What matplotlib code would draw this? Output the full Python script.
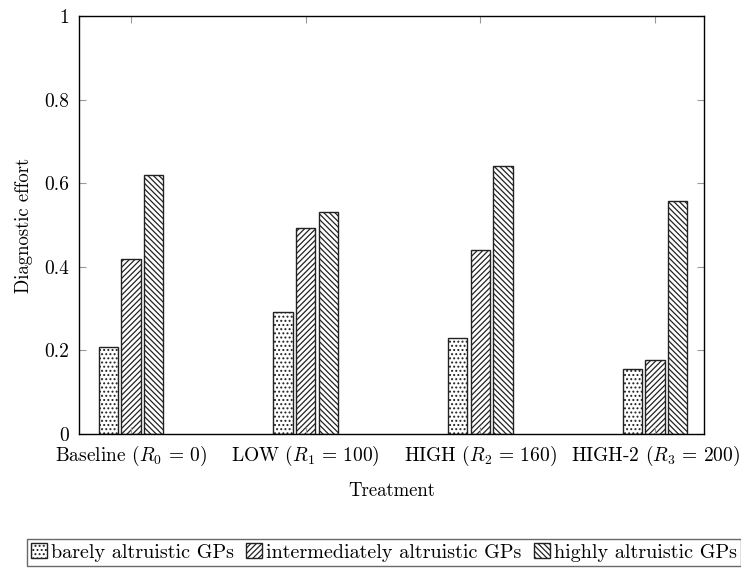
import numpy as np
import matplotlib
matplotlib.use("Agg")
import matplotlib.pyplot as plt

plt.rcParams["font.family"] = "serif"
plt.rcParams["font.serif"] = ["cmr10"]
plt.rcParams["mathtext.fontset"] = "cm"
plt.rcParams["axes.unicode_minus"] = False
plt.rcParams["hatch.linewidth"] = 0.9

treatments = [r"Baseline ($R_0\,=\,0$)", r"LOW ($R_1\,=\,100$)",
              r"HIGH ($R_2\,=\,160$)", r"HIGH-2 ($R_3\,=\,200$)"]
series = ["barely altruistic GPs", "intermediately altruistic GPs", "highly altruistic GPs"]
barely = [0.209, 0.291, 0.229, 0.155]
intermediate = [0.419, 0.494, 0.441, 0.178]
highly = [0.619, 0.530, 0.642, 0.557]
yticks = [0, 0.2, 0.4, 0.6, 0.8, 1]
ytick_labels = ["0", "0.2", "0.4", "0.6", "0.8", "1"]

hatches = ["....", "//////", "\\\\\\\\\\\\"]
values = [barely, intermediate, highly]

fig = plt.figure(figsize=(7.41, 5.69), dpi=100)
ax = fig.add_axes([79 / 741, 1 - 434 / 569, 625 / 741, 418 / 569])

x = np.arange(len(treatments))
width = 0.11
shift = 0.13
for i, (vals, name, h) in enumerate(zip(values, series, hatches)):
    ax.bar(x + (i - 1) * shift, vals, width, label=name, facecolor="white",
           edgecolor="#222222", linewidth=1.0, hatch=h)

ax.set_xlim(-0.297, 3.28)
ax.set_ylim(0, 1)
ax.set_xticks(x)
ax.set_xticklabels(treatments, fontsize=14)
ax.set_yticks(yticks)
ax.set_yticklabels(ytick_labels, fontsize=14)
ax.tick_params(direction="in", length=5, width=0.8, color="#999999",
               top=True, right=True, pad=7)
for s in ax.spines.values():
    s.set_linewidth(1.0)
    s.set_color("black")

ax.set_xlabel("Treatment", fontsize=13.5, labelpad=10)
ax.set_ylabel("Diagnostic effort", fontsize=13.5, labelpad=8)

# legend sits below the plot and runs off the right edge, as in the original
leg = fig.legend(loc="upper left", bbox_to_anchor=(27 / 741, 1 - 539 / 569),
                 ncol=3, fontsize=14.5, frameon=True, fancybox=False,
                 handlelength=0.8, handleheight=0.8, handletextpad=0.2,
                 columnspacing=0.6, borderpad=0.2, borderaxespad=0)
leg.get_frame().set_edgecolor("#444444")
leg.get_frame().set_linewidth(1.0)

fig.savefig("out.png", dpi=100)
